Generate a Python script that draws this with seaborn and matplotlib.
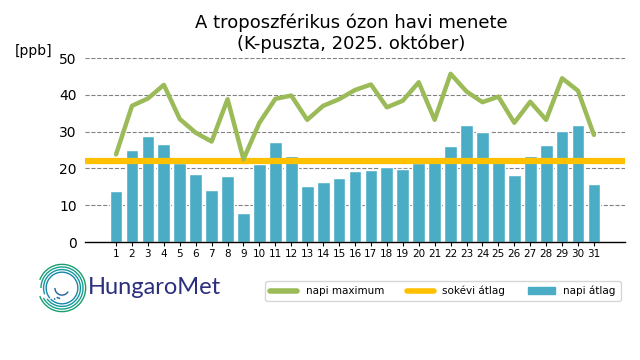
import numpy as np
import pandas as pd
import matplotlib
matplotlib.use("Agg")
import matplotlib.pyplot as plt
from matplotlib.patches import Arc, Patch
from matplotlib.lines import Line2D
import seaborn as sns

# adatok (leolvasva)
napok = list(range(1, 32))
napi_atlag = [13.8, 25.0, 28.8, 26.6, 21.4, 18.5, 14.1, 17.9, 7.9, 21.2,
              27.2, 23.4, 15.2, 16.3, 17.4, 19.3, 19.6, 20.4, 19.8, 21.5,
              22.0, 26.1, 31.8, 29.9, 22.8, 18.2, 23.4, 26.4, 30.2, 31.8, 15.8]
napi_max = [23.8, 37.0, 39.0, 42.7, 33.4, 29.7, 27.3, 38.8, 22.5, 32.4,
            38.9, 39.8, 33.2, 37.0, 38.8, 41.3, 42.8, 36.6, 38.4, 43.4,
            33.2, 45.7, 40.9, 38.0, 39.5, 32.4, 38.1, 33.2, 44.5, 41.1, 29.1]
sokevi_atlag = 22.1

df = pd.DataFrame({"nap": napok, "atlag": napi_atlag, "max": napi_max})

sns.set_theme(style="white")
plt.rcParams['font.family'] = ['DejaVu Sans']
plt.rcParams['text.color'] = 'black'
plt.rcParams['xtick.color'] = 'black'
plt.rcParams['ytick.color'] = 'black'

fig = plt.figure(figsize=(6.4, 3.6), dpi=100)
ax = fig.add_axes([85/640, 1 - 242/360, 540/640, 184/360])

sns.barplot(data=df, x="nap", y="atlag", native_scale=True, color="#4BACC6",
            saturation=1, width=0.8, ax=ax, zorder=2)
ax.axhline(sokevi_atlag, color="#FFC000", lw=4.5, zorder=3)
sns.lineplot(data=df, x="nap", y="max", color="#9BBB59", lw=3.2, ax=ax, zorder=4)

ax.set_xlim(-0.95, 32.95)
ax.set_ylim(0, 50)
ax.set_yticks(range(0, 51, 10))
ax.set_xticks(napok)
ax.set_xticklabels([str(n) for n in napok], fontsize=7.5)
ax.tick_params(axis="y", labelsize=10, length=0, pad=6)
ax.tick_params(axis="x", length=3, width=0.8, color="black", bottom=True, pad=2)
ax.set_xlabel("")
ax.set_ylabel("")
for y in range(10, 51, 10):
    ax.axhline(y, color="#808080", ls="--", lw=0.8, zorder=1)
for s in ["top", "right", "left"]:
    ax.spines[s].set_visible(False)
ax.spines["bottom"].set_color("black")
ax.spines["bottom"].set_linewidth(1)

fig.text(351/640, 1 - 33/360, "A troposzférikus ózon havi menete\n(K-puszta, 2025. október)",
         ha="center", va="center", fontsize=13, linespacing=1.15, color="black")
fig.text(15/640, 1 - 51/360, "[ppb]", ha="left", va="center", fontsize=10, color="black")

handles = [Line2D([], [], color="#9BBB59", lw=4),
           Line2D([], [], color="#FFC000", lw=4),
           Patch(color="#4BACC6")]
leg = fig.legend(handles, ["napi maximum", "sokévi átlag", "napi átlag"],
                 loc="center", bbox_to_anchor=(443/640, 1 - 291/360), ncol=3,
                 fontsize=7.5, frameon=True, handlelength=2.6, columnspacing=2.2,
                 handleheight=0.6, borderpad=0.45)
for t in leg.get_texts():
    t.set_color("black")

# logó
lax = fig.add_axes([36/640, 1 - 315/360, 52/640, 54/360])
lax.set_xlim(-1.1, 1.1)
lax.set_ylim(-1.1, 1.1)
lax.set_aspect("equal")
lax.axis("off")
cols = ["#1a9e6e", "#18a08a", "#1697a0", "#1687a8", "#1a75a8", "#1f62a0"]
for i, r in enumerate(np.linspace(1.0, 0.45, 6)):
    lax.add_patch(Arc((0, 0), 2 * r, 2 * r, theta1=200 + i * 8, theta2=160 + i * 20,
                      color=cols[i], lw=1.0))
lax.add_patch(Arc((0, 0), 0.6, 0.6, theta1=180, theta2=330, color="#1f62a0", lw=1.0))
fig.text(88/640, 1 - 288/360, "HungaroMet", ha="left", va="center",
         fontsize=17, color="#2B2F7E", family="Lato")

fig.savefig("out.png", dpi=100)
